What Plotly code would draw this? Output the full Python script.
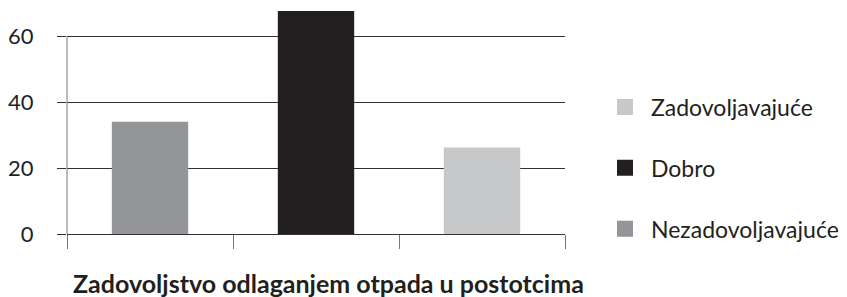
import plotly.graph_objects as go

categories = ["Nezadovoljavajuće", "Dobro", "Zadovoljavajuće"]
values = [34, 67.6, 26.2]
colors = ["#939598", "#231f20", "#c7c8ca"]
y_ticks = [0, 20, 40, 60]
title_text = "Zadovoljstvo odlaganjem otpada u postotcima"

FONT = "Lato"
fig = go.Figure()

for cat, val, col in zip(categories, values, colors):
    fig.add_trace(go.Bar(x=[cat], y=[val], marker=dict(color=col, line=dict(width=0)),
                         width=0.46, showlegend=False, offsetgroup="a"))

# legend entries (square markers), listed top to bottom as in the reference
for cat, col in reversed(list(zip(categories, colors))):
    fig.add_trace(go.Scatter(x=[None], y=[None], mode="markers", name=cat,
                             marker=dict(symbol="square", size=18, color=col),
                             legendgroup=cat))

fig.add_shape(type="line", xref="paper", yref="y", x0=0, x1=0, y0=0, y1=60,
              line=dict(color="#777", width=1))

fig.update_layout(
    width=847, height=297,
    margin=dict(l=67, r=282, t=11, b=63, autoexpand=False),
    plot_bgcolor="white", paper_bgcolor="white",
    barmode="overlay",
    font=dict(family=FONT, size=23, color="#231f20"),
    xaxis=dict(type="category", categoryorder="array", categoryarray=categories,
               showticklabels=False, tickson="boundaries", ticks="outside",
               ticklen=14, tickcolor="#777", tickwidth=1,
               showline=False, showgrid=False, zeroline=False),
    yaxis=dict(range=[0, 67.6], tickvals=y_ticks, ticks="outside", ticklen=9,
               tickcolor="#333", tickwidth=1, showgrid=True, gridcolor="#333",
               gridwidth=1, zeroline=True, zerolinecolor="#333", zerolinewidth=1,
               showline=False, ticklabelstandoff=19,
               tickfont=dict(family=FONT, size=22, color="#231f20")),
    legend=dict(x=599 / 847, xanchor="left", y=1 - 168 / 297, yanchor="middle",
                xref="container", yref="container", maxheight=297,
                traceorder="grouped", tracegroupgap=28, itemwidth=42,
                font=dict(family=FONT, size=23, color="#231f20"),
                itemsizing="trace", bgcolor="rgba(0,0,0,0)"),
    annotations=[dict(text="<b>" + title_text + "</b>", xref="paper", yref="paper",
                      x=(328 - 67) / 498, y=-(283 - 234) / 223, xanchor="center",
                      yanchor="middle", showarrow=False,
                      font=dict(family=FONT, size=25, color="#231f20"))],
)

fig.write_html("out.html", config={"displayModeBar": False},
               post_script="document.body.style.margin='0';document.body.style.padding='0';")
